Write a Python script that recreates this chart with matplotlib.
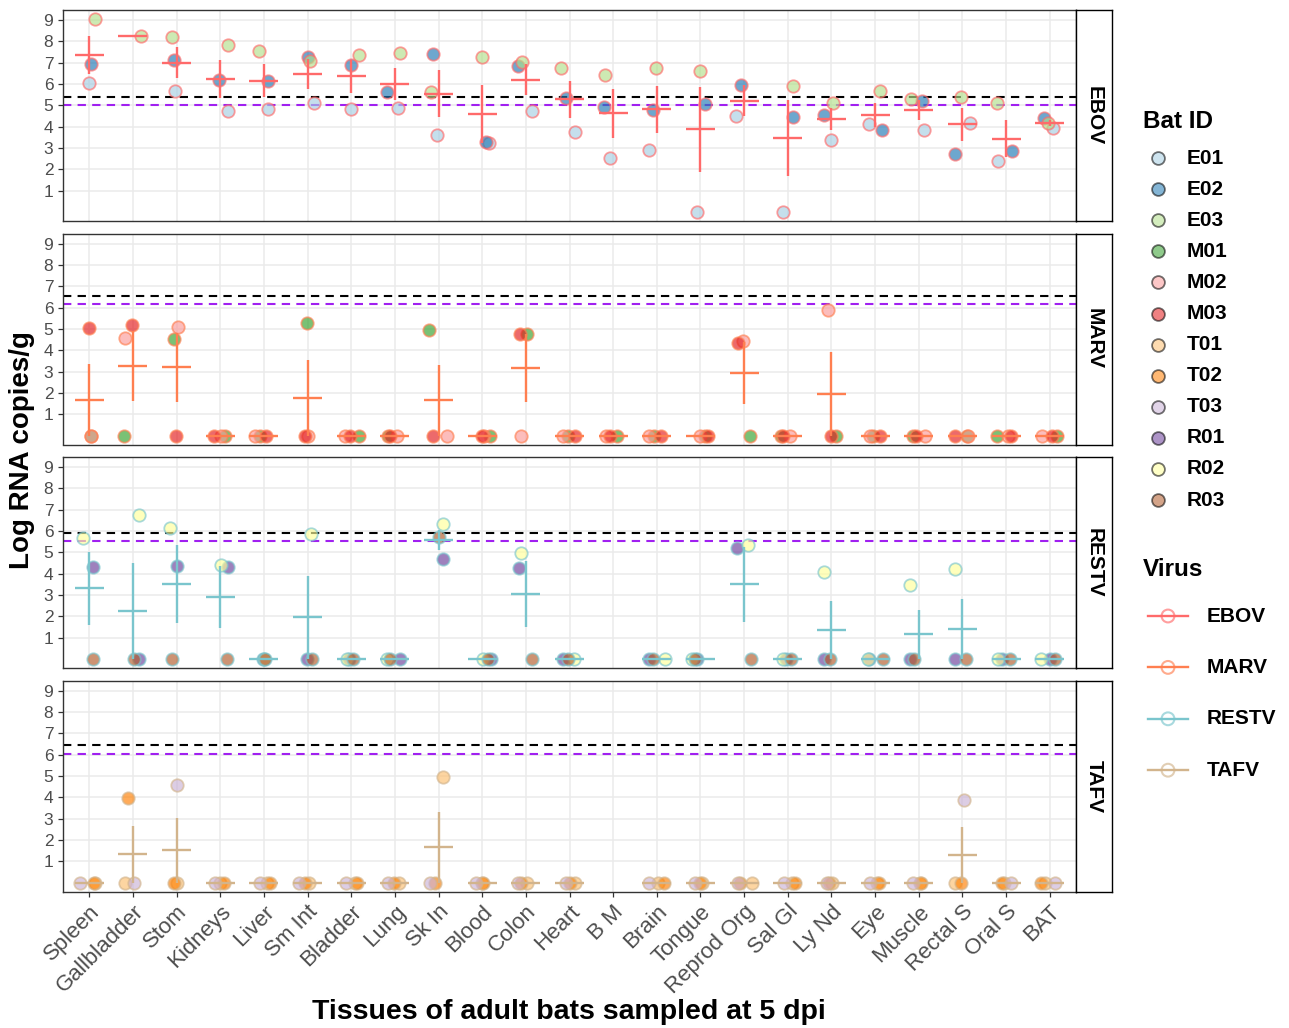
import numpy as np
import matplotlib
matplotlib.use("Agg")
import matplotlib.pyplot as plt

plt.rcParams['font.family'] = ['Liberation Sans', 'DejaVu Sans']

nan = np.nan

tissues = ["Spleen", "Gallbladder", "Stom", "Kidneys", "Liver", "Sm Int", "Bladder",
           "Lung", "Sk In", "Blood", "Colon", "Heart", "B M", "Brain", "Tongue",
           "Reprod Org", "Sal Gl", "Ly Nd", "Eye", "Muscle", "Rectal S", "Oral S", "BAT"]

viruses = ["EBOV", "MARV", "RESTV", "TAFV"]
bat_ids = ["E01", "E02", "E03", "M01", "M02", "M03", "T01", "T02", "T03", "R01", "R02", "R03"]

# log RNA copies/g, one value per tissue
ebov_e01 = [6.05, nan, 5.67, 4.72, 4.83, 5.09, 4.83, 4.89, 3.62, 3.23, 4.74, 3.73,
            2.52, 2.91, 0, 4.50, 0, 3.37, 4.12, 3.84, 4.19, 2.38, 3.93]
ebov_e02 = [6.94, nan, 7.14, 6.18, 6.13, 7.29, 6.88, 5.64, 7.40, 3.26, 6.83, 5.36,
            4.94, 4.77, 5.05, 5.95, 4.46, 4.55, 3.84, 5.20, 2.72, 2.84, 4.43]
ebov_e03 = [9.05, 8.24, 8.21, 7.81, 7.53, 7.09, 7.37, 7.45, 5.64, 7.29, 7.03, 6.75,
            6.44, 6.75, 6.60, nan, 5.93, 5.12, 5.67, 5.28, 5.40, 5.12, 4.19]

marv_m01 = [0, 0, 4.53, 0, 0, 5.28, 0, 0, 4.97, 0, 4.77, 0,
            0, 0, 0, 0, 0, 0, 0, 0, 0, 0, 0]
marv_m02 = [0, 4.58, 5.08, 0, 0, 0, 0, 0, 0, 0, 0, 0,
            0, 0, 0, 4.43, 0, 5.88, 0, 0, 0, 0, 0]
marv_m03 = [5.05, 5.16, 0, 0, 0, 0, 0, 0, 0, 0, 4.74, 0,
            0, 0, 0, 4.33, 0, 0, 0, 0, 0, 0, 0]

restv_r01 = [4.30, 0, 4.38, 4.33, 0, 0, 0, 0, 4.69, 0, 4.26, 0,
             nan, 0, 0, 5.19, 0, 0, 0, 0, 0, 0, 0]
restv_r02 = [5.67, 6.74, 6.16, 4.40, 0, 5.86, 0, 0, 6.33, 0, 4.95, 0,
             nan, 0, 0, 5.34, 0, 4.10, 0, 3.48, 4.23, 0, 0]
restv_r03 = [0, 0, 0, 0, 0, 0, 0, 0, 5.71, 0, 0, 0,
             nan, 0, 0, 0, 0, 0, 0, 0, 0, 0, 0]

tafv_t01 = [0, 0, 0, 0, 0, 0, 0, 0, 4.95, 0, 0, 0,
            nan, 0, 0, 0, 0, 0, 0, 0, 0, 0, 0]
tafv_t02 = [0, 3.96, 0, 0, 0, 0, 0, 0, 0, 0, 0, 0,
            nan, 0, 0, 0, 0, 0, 0, 0, 0, 0, 0]
tafv_t03 = [0, 0, 4.57, 0, 0, 0, 0, 0, 0, 0, 0, 0,
            nan, 0, 0, 0, 0, 0, 0, 0, 3.88, 0, 0]

# detection limits per virus (black / purple dashed lines)
upper_limit = [5.38, 6.55, 5.91, 6.44]
lower_limit = [5.00, 6.15, 5.51, 6.04]

# horizontal jitter of the points
ebov_e01_dx = [0, 0, -0.04, 0.18, 0.09, 0.14, 0, 0.08, -0.04, 0.16, 0.15, 0.13,
               -0.08, -0.18, -0.08, -0.18, -0.10, 0, -0.15, 0.11, 0.18, -0.18, 0.08]
ebov_e02_dx = [0.05, 0, -0.05, -0.02, 0.09, 0.02, 0, -0.18, -0.13, 0.08, -0.18, -0.08,
               -0.21, -0.08, 0.11, -0.07, 0.12, -0.18, 0.16, 0.07, -0.18, 0.13, -0.14]
ebov_e03_dx = [0.14, 0.18, -0.10, 0.19, -0.11, 0.06, 0.17, 0.11, -0.18, 0, -0.08, -0.19,
               -0.18, -0.02, 0, 0, 0.11, 0.04, 0.12, -0.18, -0.04, -0.20, -0.04]
marv_m01_dx = [0.05, -0.21, -0.06, 0.12, -0.08, -0.02, 0.17, -0.15, -0.21, 0.17, 0.02, -0.04,
               0.08, -0.06, 0.10, 0.13, -0.16, 0.10, -0.04, -0.14, 0.10, -0.20, 0.16]
marv_m02_dx = [0.04, -0.19, 0.03, 0.02, -0.20, 0, -0.14, 0.05, 0.19, 0.05, -0.10, -0.15,
               -0.16, -0.18, 0, -0.02, 0.06, -0.07, -0.12, 0.15, 0.12, 0.05, -0.19]
marv_m03_dx = [0, -0.02, -0.02, -0.15, 0.05, -0.05, -0.02, -0.10, -0.13, 0, -0.14, 0.12,
               -0.08, 0.10, 0.18, -0.14, -0.12, 0, 0.12, -0.06, -0.18, 0.10, 0.04]
restv_r01_dx = [0.08, 0.15, 0, 0.19, -0.02, -0.02, -0.05, 0.11, 0.11, 0.21, -0.15, -0.15,
                0, -0.18, -0.08, -0.16, -0.05, -0.16, -0.14, -0.20, -0.16, -0.10, 0]
restv_r02_dx = [-0.15, 0.15, -0.15, 0.02, 0, 0.08, -0.10, -0.17, 0.11, 0.02, -0.10, 0.11,
                0, 0.19, -0.20, 0.09, -0.12, -0.16, -0.16, -0.20, -0.16, -0.18, -0.20]
restv_r03_dx = [0.08, 0.03, -0.10, 0.15, 0.03, 0.11, 0.04, -0.12, 0, 0.14, 0.15, -0.04,
                0, -0.08, -0.12, 0.15, 0.07, -0.04, 0.19, -0.10, 0.07, 0.08, 0.12]
tafv_t01_dx = [0.14, -0.18, 0, 0, 0.07, 0.03, 0.09, 0.10, 0.11, 0, 0.02, 0.12,
               0, 0.02, 0.03, 0.17, 0.10, 0.02, 0.04, 0.02, -0.16, -0.05, -0.10]
tafv_t02_dx = [0.10, -0.10, -0.05, 0.08, 0.13, -0.05, 0.13, -0.03, -0.08, 0.02, -0.10, 0,
               0, 0.16, 0, -0.10, 0.16, -0.05, 0.08, 0.06, -0.04, -0.10, -0.20]
tafv_t03_dx = [-0.20, 0.03, 0, -0.12, -0.08, -0.20, -0.12, -0.15, -0.19, -0.13, -0.17, -0.08,
               0, -0.18, -0.12, -0.14, -0.08, -0.10, -0.12, -0.14, 0.04, 0.10, 0.12]

panels = {
    "EBOV": [("E01", ebov_e01, ebov_e01_dx), ("E02", ebov_e02, ebov_e02_dx), ("E03", ebov_e03, ebov_e03_dx)],
    "MARV": [("M01", marv_m01, marv_m01_dx), ("M02", marv_m02, marv_m02_dx), ("M03", marv_m03, marv_m03_dx)],
    "RESTV": [("R01", restv_r01, restv_r01_dx), ("R02", restv_r02, restv_r02_dx), ("R03", restv_r03, restv_r03_dx)],
    "TAFV": [("T01", tafv_t01, tafv_t01_dx), ("T02", tafv_t02, tafv_t02_dx), ("T03", tafv_t03, tafv_t03_dx)],
}

bat_colors = dict(zip(bat_ids, ["#A6CEE3", "#1F78B4", "#B2DF8A", "#33A02C", "#FB9A99", "#E31A1C",
                                "#FDBF6F", "#FF7F00", "#CAB2D6", "#6A3D9A", "#FFFF99", "#B15928"]))
virus_colors = dict(zip(viruses, ["#FF6A6A", "#FF7F50", "#7AC5CD", "#D2B48C"]))
ALPHA = 0.65

W, H = 1289, 1028
fig = plt.figure(figsize=(W / 100, H / 100), dpi=100)

x_left, x_right = 63, 1076
strip_w = 36
tops = [10, 233.5, 457, 680.5]
ph = 211
xpos = np.arange(1, len(tissues) + 1)

for i, v in enumerate(viruses):
    ax = fig.add_axes([x_left / W, 1 - (tops[i] + ph) / H, (x_right - x_left) / W, ph / H])
    ax.set_xlim(0.4, len(tissues) + 0.6)
    ax.set_ylim(-0.42, 9.47)
    ax.set_yticks(range(1, 10))
    ax.set_xticks(xpos)
    ax.grid(True, color="#EBEBEB", lw=1.1)
    ax.set_axisbelow(True)
    for sp in ax.spines.values():
        sp.set_color("#333333")
        sp.set_linewidth(1.0)
    ax.tick_params(axis="both", length=3.5, width=0.9, color="#333333",
                   labelcolor="#4D4D4D", labelsize=12.5)
    if i < 3:
        ax.tick_params(axis="x", labelbottom=False, length=0)
    else:
        ax.set_xticklabels(tissues, rotation=45, ha="right", va="top",
                           rotation_mode="anchor", fontsize=16)

    ax.axhline(upper_limit[i], color="black", lw=1.5, ls=(0, (4, 3)), zorder=2)
    ax.axhline(lower_limit[i], color="#A020F0", lw=1.5, ls=(0, (4, 3)), zorder=2)

    vc = virus_colors[v]
    stack = []
    for bat, vals, dx in panels[v]:
        vals = np.array(vals, dtype=float)
        stack.append(vals)
        ax.scatter(xpos + np.array(dx), vals, s=80, facecolor=bat_colors[bat],
                   edgecolor=vc, linewidths=1.3, alpha=ALPHA, zorder=3)

    # mean +/- standard error per tissue
    stack = np.array(stack)
    ok = ~np.isnan(stack)
    n = ok.sum(axis=0)
    has = n > 0
    filled = np.where(ok, stack, 0.0)
    mean = np.full(len(tissues), nan)
    mean[has] = filled.sum(axis=0)[has] / n[has]
    se = np.full(len(tissues), nan)
    multi = n > 1
    dev = np.where(ok, stack - mean, 0.0)
    se[multi] = np.sqrt((dev ** 2).sum(axis=0)[multi] / (n[multi] - 1)) / np.sqrt(n[multi])

    ax.hlines(mean[has], xpos[has] - 0.33, xpos[has] + 0.33, color=vc, lw=1.7, zorder=4)
    ax.vlines(xpos[multi], (mean - se)[multi], (mean + se)[multi], color=vc, lw=1.7, zorder=4)

    sax = fig.add_axes([x_right / W, 1 - (tops[i] + ph) / H, strip_w / W, ph / H])
    sax.set_xticks([])
    sax.set_yticks([])
    sax.set_facecolor("white")
    for sp in sax.spines.values():
        sp.set_color("black")
        sp.set_linewidth(1.0)
    sax.text(0.5, 0.5, v, rotation=-90, ha="center", va="center",
             fontsize=15, fontweight="bold", transform=sax.transAxes)

fig.text(22 / W, 1 - 450 / H, "Log RNA copies/g", rotation=90, ha="center", va="center",
         fontsize=20, fontweight="bold")
fig.text(569 / W, 1 - 1012 / H, "Tissues of adult bats sampled at 5 dpi", ha="center",
         va="center", fontsize=20.5, fontweight="bold")

# legends, drawn in pixel coordinates
lax = fig.add_axes([0, 0, 1, 1], zorder=-1)
lax.set_xlim(0, W)
lax.set_ylim(H, 0)
lax.axis("off")

lax.text(1143, 121, "Bat ID", ha="left", va="center", fontsize=17.5, fontweight="bold")
for k, bat in enumerate(bat_ids):
    yy = 158 + k * 31.1
    lax.scatter([1158], [yy], s=85, facecolor=bat_colors[bat], edgecolor="black",
                linewidths=1.3, alpha=0.55)
    lax.text(1187, yy, bat, ha="left", va="center", fontsize=15, fontweight="bold")

lax.text(1143, 569, "Virus", ha="left", va="center", fontsize=17.5, fontweight="bold")
for k, v in enumerate(viruses):
    yy = 616 + k * 51.4
    lax.plot([1148, 1188], [yy, yy], color=virus_colors[v], lw=1.7)
    lax.scatter([1168], [yy], s=85, facecolor="none", edgecolor=virus_colors[v],
                linewidths=1.5, alpha=ALPHA)
    lax.text(1207, yy, v, ha="left", va="center", fontsize=15, fontweight="bold")

fig.savefig("out.png", dpi=100, facecolor="white")
